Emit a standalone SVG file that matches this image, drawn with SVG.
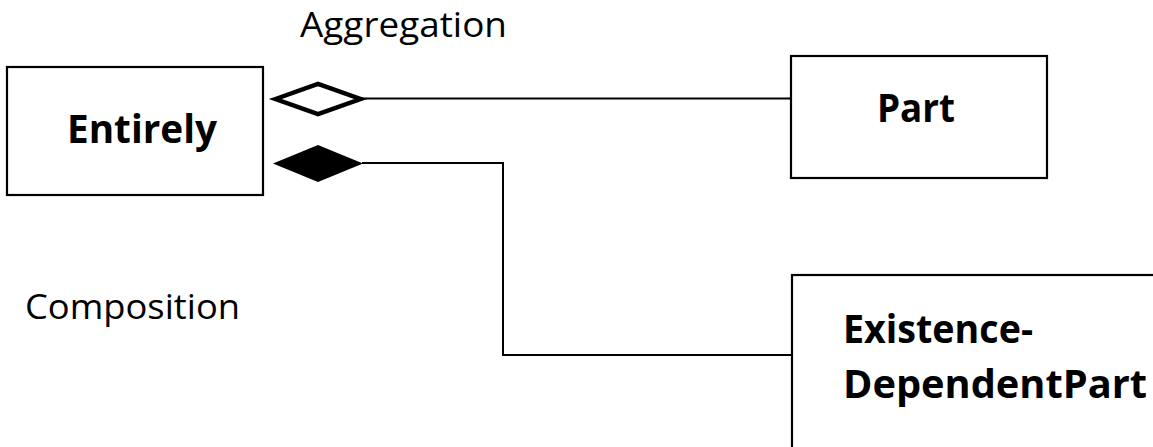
<svg xmlns="http://www.w3.org/2000/svg" width="1153" height="447" viewBox="0 0 1153 447">
  <style>
    .box { fill: #ffffff; stroke: #000000; stroke-width: 2.2; }
    .conn { fill: none; stroke: #000000; stroke-width: 2; }
    .lbl { font-family: "Open Sans", "Liberation Sans", sans-serif; font-size: 35px; fill: #000000; }
    .name { font-family: "Open Sans", "Liberation Sans", sans-serif; font-size: 40px; font-weight: bold; fill: #000000; }
  </style>
  <rect width="1153" height="447" fill="#ffffff"/>
  <g id="connectors">
    <polygon points="275.5,99 318,84 360.5,99 318,114" fill="#ffffff" stroke="#000000" stroke-width="4.5"/>
    <line class="conn" x1="362" y1="98.5" x2="791" y2="98.5"/>
    <polygon points="273,163.5 318,145 363,163.5 318,182" fill="#000000"/>
    <polyline class="conn" points="362,163 503,163 503,355 791,355"/>
  </g>
  <g id="node-entirely">
    <rect class="box" x="7" y="67" width="256" height="128"/>
    <text class="name" x="67" y="143" textLength="150" lengthAdjust="spacingAndGlyphs">Entirely</text>
  </g>
  <g id="node-part">
    <rect class="box" x="791" y="56" width="256" height="122"/>
    <text class="name" x="877" y="122" textLength="78" lengthAdjust="spacingAndGlyphs">Part</text>
  </g>
  <g id="node-existence">
    <rect class="box" x="792" y="275" width="380" height="190"/>
    <text class="name" x="843" y="343" textLength="190" lengthAdjust="spacingAndGlyphs">Existence-</text>
    <text class="name" x="843" y="398" textLength="304" lengthAdjust="spacingAndGlyphs">DependentPart</text>
  </g>
  <g id="labels">
    <text class="lbl" x="300" y="37" textLength="207" lengthAdjust="spacingAndGlyphs">Aggregation</text>
    <text class="lbl" x="25" y="319" textLength="215" lengthAdjust="spacingAndGlyphs">Composition</text>
  </g>
</svg>
